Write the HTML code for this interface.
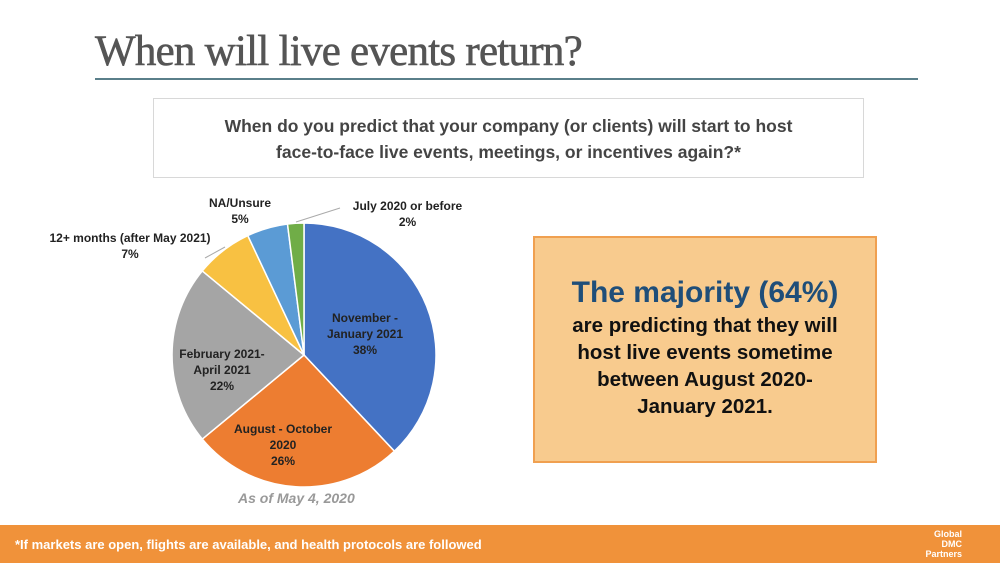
<!DOCTYPE html>
<html><head><meta charset="utf-8"><style>
body{margin:0;width:1000px;height:563px;background:#fff;position:relative;overflow:hidden;font-family:"Liberation Sans","DejaVu Sans",sans-serif;}
.t{position:absolute;left:95px;top:27px;font-family:"Liberation Serif",serif;font-size:43px;color:#555;letter-spacing:-0.75px;-webkit-text-stroke:0.6px #555;}
.hl{position:absolute;left:95px;top:78px;width:823px;height:2px;background:#5a7f8a;}
.q{position:absolute;left:153px;top:98px;width:711px;height:80px;border:1px solid #d8d8d8;box-sizing:border-box;text-align:center;font-weight:bold;font-size:17.5px;line-height:26px;color:#444;padding-top:14px;}
.box{position:absolute;left:533px;top:236px;width:344px;height:227px;background:#F8CB8E;border:2px solid #F0A050;box-sizing:border-box;text-align:center;color:#111;}
.box .h{font-size:30px;font-weight:bold;color:#1f4e79;margin-top:38px;}
.box .b{font-size:20.5px;font-weight:bold;line-height:27px;margin-top:2px;}
.foot{position:absolute;left:0;top:525px;width:1000px;height:38px;background:#F0923A;color:#fff;font-weight:bold;font-size:13px;}
.foot span{position:absolute;left:15px;top:12px;}
.lg{position:absolute;right:38px;top:4px;font-size:9px;line-height:10px;text-align:right;color:#fff;}
.l{position:absolute;font-size:12px;font-weight:bold;color:#222;text-align:center;line-height:16px;}
.asof{position:absolute;left:238px;top:490px;font-size:14px;font-style:italic;font-weight:bold;color:#999;}
</style></head><body>
<div class="t">When will live events return?</div>
<div class="hl"></div>
<div class="q">When do you predict that your company (or clients) will start to host<br>face-to-face live events, meetings, or incentives again?*</div>
<svg style="position:absolute;left:0;top:0" width="1000" height="563">
<g stroke="#fff" stroke-width="1.5">
<path d="M304,355 L304,223 A132,132 0 0 1 394.4,451.2 Z" fill="#4472C4"/>
<path d="M304,355 L394.4,451.2 A132,132 0 0 1 202.3,439.1 Z" fill="#ED7D31"/>
<path d="M304,355 L202.3,439.1 A132,132 0 0 1 202.3,270.9 Z" fill="#A5A5A5"/>
<path d="M304,355 L202.3,270.9 A132,132 0 0 1 247.8,235.6 Z" fill="#F8C142"/>
<path d="M304,355 L247.8,235.6 A132,132 0 0 1 287.5,224 Z" fill="#5B9BD5"/>
<path d="M304,355 L287.5,224 A132,132 0 0 1 304,223 Z" fill="#70AD47"/>
</g>
<g stroke="#aaa" fill="none" stroke-width="1">
<polyline points="296,222 340,208"/>
<polyline points="225,247 205,258"/>
</g>
</svg>
<div class="l" style="left:320px;top:310px;width:90px">November -<br>January 2021<br>38%</div>
<div class="l" style="left:228px;top:421px;width:110px">August - October<br>2020<br>26%</div>
<div class="l" style="left:170px;top:346px;width:104px">February 2021-<br>April 2021<br>22%</div>
<div class="l" style="left:30px;top:230px;width:200px">12+ months (after May 2021)<br>7%</div>
<div class="l" style="left:205px;top:195px;width:70px">NA/Unsure<br>5%</div>
<div class="l" style="left:335px;top:198px;width:145px">July 2020 or before<br>2%</div>
<div class="asof">As of May 4, 2020</div>
<div class="box"><div class="h">The majority (64%)</div><div class="b">are predicting that they will<br>host live events sometime<br>between August 2020-<br>January 2021.</div></div>
<div class="foot"><span>*If markets are open, flights are available, and health protocols are followed</span><div class="lg">Global<br>DMC<br>Partners</div></div>
</body></html>
